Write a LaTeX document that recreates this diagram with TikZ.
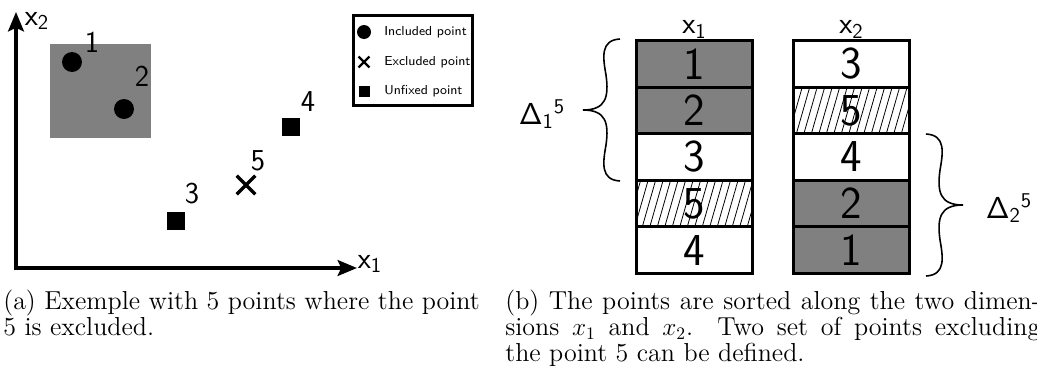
\documentclass[tikz,border=0pt]{standalone}
\usetikzlibrary{positioning,arrows.meta,patterns.meta,shapes.misc}

\begin{document}
\begin{tikzpicture}[x=0.02cm, y=-0.02cm,
    axis/.style={line width=2pt, {Stealth[length=11pt, width=9pt, inset=2pt]}-{Stealth[length=11pt, width=9pt, inset=2pt]}},
    lbl/.style={font=\sffamily\LARGE, inner sep=0pt},
    incl/.style={circle, fill, inner sep=0pt, minimum size=0.4cm},
    excl/.style={cross out, draw, line width=2pt, inner sep=0pt, minimum size=0.3cm},
    unfix/.style={rectangle, fill, inner sep=0pt, minimum size=0.36cm},
    key/.style={anchor=west, font=\sffamily\fontsize{7.4}{9}\selectfont, inner sep=0pt},
    cell/.style={draw, line width=1.7pt, inner sep=0pt, outer sep=0pt,
                 minimum width=2.32cm, minimum height=0.932cm,
                 font=\sffamily\fontsize{26}{30}\selectfont},
    full/.style={cell, fill=gray},
    hatch/.style={cell, pattern={Lines[angle=74, distance=4.1pt, line width=0.45pt]}},
    curly/.pic={\draw[line width=0.9pt] (37,-71) .. controls (17,-70) and (20,-52) .. (23,-35)
                .. controls (26,-13) and (23,0) .. (0,0)
                .. controls (23,0) and (26,13) .. (23,35)
                .. controls (20,52) and (17,70) .. (37,71);},
    caption/.style={anchor=north west, inner sep=0pt, font=\fontsize{14.8}{14.8}\selectfont}]

  \useasboundingbox (0,0) rectangle (1037,376);

  % axes
  \coordinate (O) at (16,268);
  \coordinate (ytop) at (16,12);
  \coordinate (xend) at (357,268);
  \draw[axis] (ytop) -- (O) -- (xend);
  \node[lbl] (ax2) at (37,21) {$\mathsf{x_2}$};
  \node[lbl] (ax1) at (370,264) {$\mathsf{x_1}$};

  % included region and points
  \fill[gray] (50,44) rectangle (151,138);
  \node[incl] (p1) at (72,62) {};
  \node[incl] (p2) at (124,109) {};
  \node[unfix] (p3) at (176,221) {};
  \node[unfix] (p4) at (291,127) {};
  \node[excl] (p5) at (246,185) {};
  \node[lbl] (l1) at (92,42) {1};
  \node[lbl] (l2) at (142,76) {2};
  \node[lbl] (l3) at (192,194) {3};
  \node[lbl] (l4) at (308,102) {4};
  \node[lbl] (l5) at (258,161) {5};

  % legend
  \node[draw, line width=1.6pt, inner sep=0pt, minimum width=2.38cm, minimum height=1.8cm] (legend) at (413,60.5) {};
  \node[incl, minimum size=0.28cm] (k1) at (364,32) {};
  \node[excl, minimum size=0.17cm, line width=1.4pt] (k2) at (364,62) {};
  \node[unfix, minimum size=0.22cm] (k3) at (364,91) {};
  \node[key] (t1) at (384,32) {Included point};
  \node[key] (t2) at (384,62) {Excluded point};
  \node[key] (t3) at (384,91) {Unfixed point};

  % sorted columns
  \node[full] (c11) at (694.5,63.8) {1};
  \node[full, below=0pt of c11] (c12) {2};
  \node[cell, below=0pt of c12] (c13) {3};
  \node[hatch, below=0pt of c13] (c14) {5};
  \node[cell, below=0pt of c14] (c15) {4};
  \node[cell] (c21) at (851.5,63.8) {3};
  \node[hatch, below=0pt of c21] (c22) {5};
  \node[cell, below=0pt of c22] (c23) {4};
  \node[full, below=0pt of c23] (c24) {2};
  \node[full, below=0pt of c24] (c25) {1};
  \node[lbl, above=1pt of c11] (h1) {$\mathsf{x_1}$};
  \node[lbl, above=1pt of c21] (h2) {$\mathsf{x_2}$};

  % braces
  \pic at (583,110) {curly};
  \pic[xscale=-1] at (963,205) {curly};
  \node[lbl] (d1) at (542,114) {$\mathsf{\Delta_1{}^5}$};
  \node[lbl] (d2) at (1009,208) {$\mathsf{\Delta_2{}^5}$};

  % captions
  \node[caption, align=left] (capa) at (3,290) {(a) Exemple with 5 points where the point\\5 is excluded.};
  \node[caption, text width=10.7cm, align=justify] (capb) at (505,290) {(b) The points are sorted along the two dimen-\linebreak sions $x_1$ and $x_2$. Two set of points excluding\linebreak the point 5 can be defined.};
\end{tikzpicture}
\end{document}
